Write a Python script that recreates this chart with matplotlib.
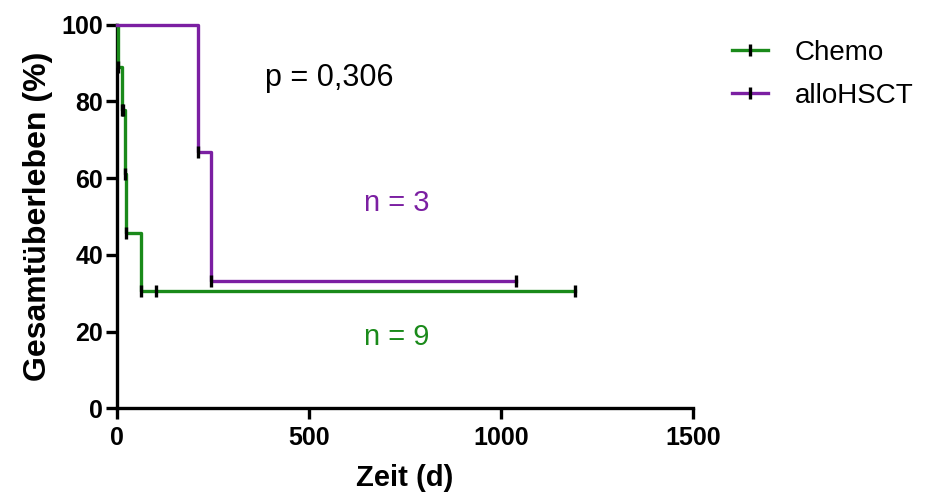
import matplotlib.pyplot as plt
from matplotlib.lines import Line2D

# Kaplan-Meier steps
chemo_t = [0, 3, 12, 21, 23, 62, 1193]
chemo_s = [100, 88.9, 77.8, 61.1, 45.8, 30.5, 30.5]
chemo_tick_t = [3, 12, 16, 21, 23, 62, 101, 1193]
chemo_tick_s = [88.9, 77.8, 77.8, 61.1, 45.8, 30.5, 30.5, 30.5]

hsct_t = [0, 210, 246, 1039]
hsct_s = [100, 66.7, 33.3, 33.3]
hsct_tick_t = [210, 246, 1039]
hsct_tick_s = [66.7, 33.3, 33.3]

green = '#1a8a1a'
purple = '#7b1fa2'
font = ['Liberation Sans', 'DejaVu Sans']

plt.rcParams['font.family'] = font
fig = plt.figure(figsize=(9.28, 4.96), dpi=100)
ax = fig.add_axes([0.126, 0.177, 0.621, 0.773])

ax.step(chemo_t, chemo_s, where='post', color=green, lw=2.4, clip_on=False, zorder=3)
ax.step(hsct_t, hsct_s, where='post', color=purple, lw=2.4, clip_on=False, zorder=3)
ax.plot(chemo_tick_t, chemo_tick_s, '|', color='black', ms=9, mew=2.4, clip_on=False, zorder=4)
ax.plot(hsct_tick_t, hsct_tick_s, '|', color='black', ms=9, mew=2.4, clip_on=False, zorder=4)

ax.set_xlim(0, 1500)
ax.set_ylim(0, 100)
ax.set_xticks([0, 500, 1000, 1500])
ax.set_yticks([0, 20, 40, 60, 80, 100])
for s in ['top', 'right']:
    ax.spines[s].set_visible(False)
for s in ['left', 'bottom']:
    ax.spines[s].set_linewidth(2.4)
ax.tick_params(axis='both', width=2.4, length=8, direction='out')
ax.tick_params(axis='x', pad=5)
ax.tick_params(axis='y', pad=2)
for lab in ax.get_xticklabels() + ax.get_yticklabels():
    lab.set_fontweight('bold')
    lab.set_fontsize(18)

ax.set_xlabel('Zeit (d)', fontsize=21, fontweight='bold', labelpad=10)
ax.set_ylabel('Gesamtüberleben (%)', fontsize=23, fontweight='bold', labelpad=6)

ax.text(385, 86, 'p = 0,306', fontsize=22, color='black', va='center', ha='left')
ax.text(729, 53.5, 'n = 3', fontsize=21, color=purple, va='center', ha='center')
ax.text(729, 18.5, 'n = 9', fontsize=21, color=green, va='center', ha='center')

handles = [
    Line2D([0], [0], color=green, lw=2.4, marker='|', ms=9, mew=2.4, mec='black'),
    Line2D([0], [0], color=purple, lw=2.4, marker='|', ms=9, mew=2.4, mec='black'),
]
fig.legend(handles, ['Chemo', 'alloHSCT'], loc='upper left', bbox_to_anchor=(0.762, 0.97),
           frameon=False, fontsize=20, handlelength=1.3, handletextpad=0.95,
           labelspacing=0.62, numpoints=1)

fig.savefig('out.png', dpi=100)
